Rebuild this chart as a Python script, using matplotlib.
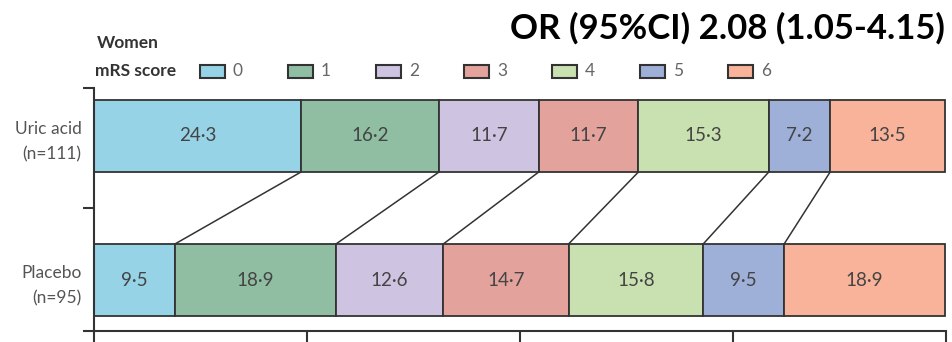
import matplotlib
matplotlib.use("Agg")
import matplotlib.pyplot as plt
from matplotlib.patches import Rectangle
from matplotlib.ticker import FixedLocator, NullFormatter
import numpy as np

# --- data -------------------------------------------------------------
group_labels = ["Uric acid\n(n=111)", "Placebo\n(n=95)"]
mrs_scores = ["0", "1", "2", "3", "4", "5", "6"]
uric_acid = [24.3, 16.2, 11.7, 11.7, 15.3, 7.2, 13.5]
placebo = [9.5, 18.9, 12.6, 14.7, 15.8, 9.5, 18.9]
x_ticks = [0, 25, 50, 75, 100]
title_text = "OR (95%CI) 2.08 (1.05-4.15)"
panel_label = "Women"
legend_title = "mRS score"

score_colors = ["#97D3E7", "#8FBEA3", "#CEC3E0", "#E3A29C",
                "#C9E0B1", "#9EAFD8", "#F8B39A"]

# --- figure -----------------------------------------------------------
W, H = 953, 342
plt.rcParams["font.family"] = ["Lato", "DejaVu Sans"]
fig = plt.figure(figsize=(W / 100, H / 100), dpi=100)
fig.patch.set_facecolor("white")

ax = fig.add_axes([94 / W, (H - 331) / H, (946 - 94) / W, (331 - 88) / H])

edge = "#333333"
text_col = "#444444"
bar_h = 0.5
rows = [(1, uric_acid), (0, placebo)]

cums = {}
for ypos, vals in rows:
    vals = np.asarray(vals)
    left = np.concatenate([[0], np.cumsum(vals)[:-1]])
    cums[ypos] = np.cumsum(vals)
    ax.barh([ypos] * len(vals), vals, left=left, height=bar_h,
            color=score_colors, edgecolor=edge, linewidth=1.3, zorder=2)
    for l, v in zip(left, vals):
        ax.text(l + v / 2, ypos, f"{v:.1f}".replace(".", "\u00b7"),
                ha="center", va="center", fontsize=13.5, color=text_col,
                zorder=3)

# connectors between matching cumulative boundaries
for k in range(len(uric_acid) - 1):
    ax.plot([cums[1][k], cums[0][k]], [1 - bar_h / 2, 0 + bar_h / 2],
            color=edge, linewidth=1.1, zorder=1)

ax.set_xlim(0, 100)
y_lo, y_hi = -0.354, 1.333
ax.set_ylim(y_lo, y_hi)

for s in ("top", "right"):
    ax.spines[s].set_visible(False)
for s in ("left", "bottom"):
    ax.spines[s].set_color(edge)
    ax.spines[s].set_linewidth(1.5)

ax.set_xticks(x_ticks)
ax.xaxis.set_major_formatter(NullFormatter())
ax.tick_params(axis="x", direction="out", length=16, width=1.5, color=edge)

ax.set_yticks([1, 0])
ax.set_yticklabels(group_labels, fontsize=12.5, color="#555555",
                   linespacing=1.65)
ax.tick_params(axis="y", which="major", length=0, pad=9)
ax.yaxis.set_minor_locator(FixedLocator([y_lo, 0.5, y_hi]))
ax.tick_params(axis="y", which="minor", direction="out", length=8,
               width=1.5, color=edge)

# --- header: panel label, legend and odds ratio -----------------------
fig.text(97 / W, 1 - 43 / H, panel_label, fontsize=12.5, fontweight="bold",
         color="#333333", ha="left", va="center")
fig.text(95 / W, 1 - 71 / H, legend_title, fontsize=12.5, fontweight="bold",
         color="#333333", ha="left", va="center")

patch_x0, patch_step = 200, 88
pw, ph = 25, 13
for i, (lab, c) in enumerate(zip(mrs_scores, score_colors)):
    px = patch_x0 + i * patch_step
    fig.patches.append(Rectangle((px / W, 1 - (71 + ph / 2) / H), pw / W,
                                 ph / H, transform=fig.transFigure,
                                 facecolor=c, edgecolor=edge, linewidth=1.5))
    fig.text((px + pw + 8) / W, 1 - 71 / H, lab, fontsize=12.5,
             color="#666666", ha="left", va="center")

fig.text(945 / W, 1 - 28 / H, title_text, fontsize=25, fontweight="bold",
         color="black", ha="right", va="center")

fig.savefig("out.png", dpi=100, facecolor="white")
